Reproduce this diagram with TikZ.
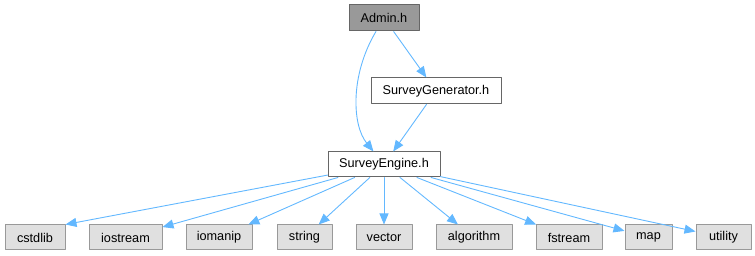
\documentclass[tikz,border=0pt]{standalone}
\usepackage{fontspec}
\setmainfont{Liberation Sans}
\usepackage{xcolor}
\usepackage{tikz}
\usetikzlibrary{arrows.meta}
\definecolor{edgeblue}{HTML}{63B8FF}
\definecolor{boxline}{HTML}{666666}
\definecolor{extline}{HTML}{999999}
\definecolor{extfill}{HTML}{E0E0E0}
\definecolor{rootfill}{HTML}{999999}
\tikzset{
  file/.style={draw=boxline, fill=white, line width=1pt, inner sep=0pt,
    minimum height=26pt, font=\fontsize{12.7}{15}\selectfont},
  root/.style={file, fill=rootfill},
  ext/.style={file, draw=extline, fill=extfill, minimum height=25pt},
  dep/.style={draw=edgeblue, line width=0.9pt, -{Triangle[length=11pt,width=9pt]}}
}
\begin{document}
\begin{tikzpicture}[x=1pt, y=-1pt, line cap=round, line join=round]
  \useasboundingbox (0,0) rectangle (755,256);
  \node[root, minimum width=70pt] (admin) at (384,18) {Admin.h};
  \node[file, minimum width=130pt] (gen) at (436,91) {SurveyGenerator.h};
  \node[file, minimum width=112pt, minimum height=25pt] (eng) at (384,164.5) {SurveyEngine.h};
  % system headers
  \node[ext, minimum width=60pt] (cstdlib) at (35,237.5) {cstdlib};
  \node[ext, minimum width=73pt] (iostream) at (125.5,237.5) {iostream};
  \node[ext, minimum width=66pt] (iomanip) at (219,237.5) {iomanip};
  \node[ext, minimum width=55pt] (string) at (304.5,237.5) {string};
  \node[ext, minimum width=56pt] (vector) at (384,237.5) {vector};
  \node[ext, minimum width=76pt] (algorithm) at (474,237.5) {algorithm};
  \node[ext, minimum width=66pt] (fstream) at (569,237.5) {fstream};
  \node[ext, minimum width=47pt] (map) at (648.5,237.5) {map};
  \node[ext, minimum width=55pt] (utility) at (723.5,237.5) {utility};
  \draw[dep] (admin) .. controls (350,75) and (352,125) .. (eng);
  \draw[dep] (admin) -- (gen);
  \draw[dep] (gen) -- (eng);
  \draw[dep] (eng) -- (cstdlib.north east);
  \foreach \h in {iostream,iomanip,string,vector,algorithm,fstream,map,utility}
    \draw[dep] (eng) -- (\h);
\end{tikzpicture}
\end{document}
